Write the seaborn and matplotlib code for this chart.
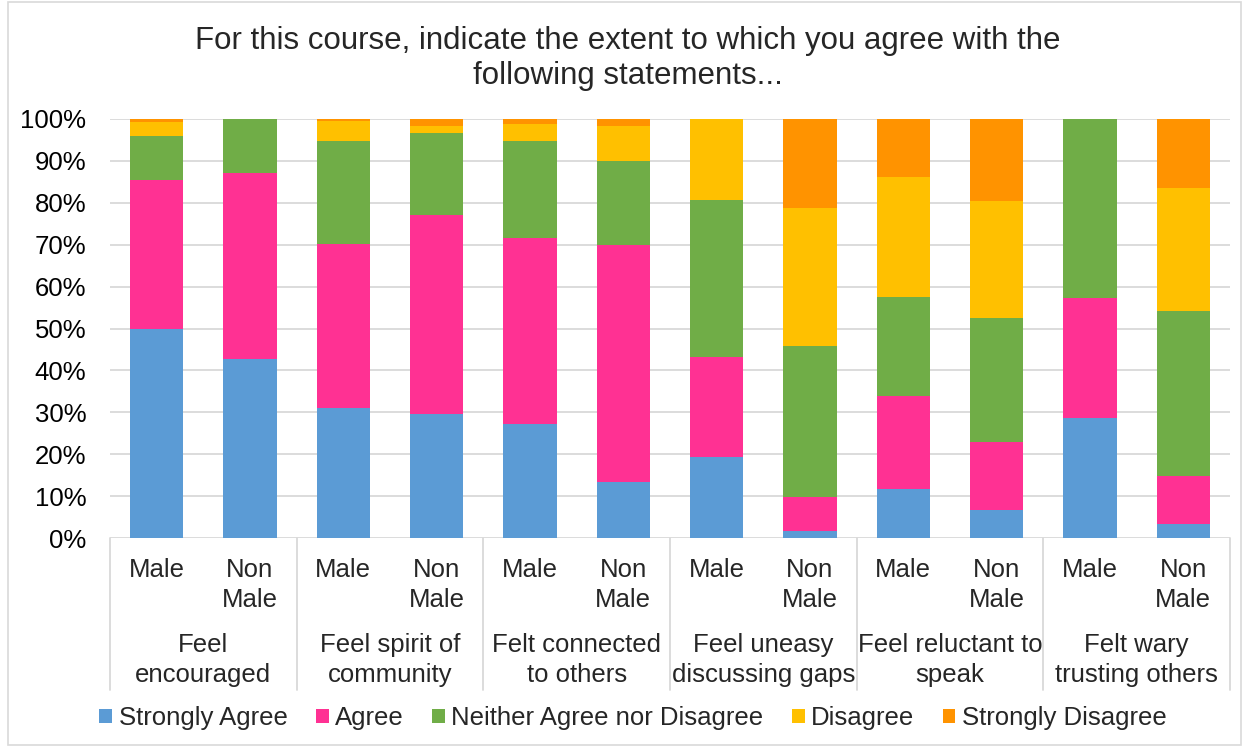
import matplotlib
matplotlib.use("Agg")
import matplotlib.pyplot as plt
import matplotlib.transforms as mtransforms
from matplotlib.patches import Rectangle
import numpy as np
import pandas as pd
import seaborn as sns

# Survey statements (outer axis groups) and respondent groups (inner labels)
statements = ["Feel\nencouraged", "Feel spirit of\ncommunity", "Felt connected\nto others",
              "Feel uneasy\ndiscussing gaps", "Feel reluctant to\nspeak", "Felt wary\ntrusting others"]
genders = ["Male", "Non\nMale"]

# Percent of responses per bar, ordered statement by statement, Male then Non Male
strongly_agree = [49.8, 42.8, 31.1, 29.5, 27.1, 13.3, 19.3, 1.6, 11.8, 6.6, 28.6, 3.3]
agree = [35.6, 44.2, 39.0, 47.5, 44.4, 56.7, 23.8, 8.2, 22.0, 16.4, 28.6, 11.5]
neither = [10.6, 13.0, 24.6, 19.7, 23.2, 20.0, 37.6, 36.1, 23.8, 29.5, 42.8, 39.3]
disagree = [3.4, 0.0, 4.8, 1.7, 4.0, 8.4, 19.3, 32.8, 28.5, 27.9, 0.0, 29.5]
strongly_disagree = [0.6, 0.0, 0.5, 1.6, 1.3, 1.6, 0.0, 21.3, 13.9, 19.6, 0.0, 16.4]

responses = ["Strongly Agree", "Agree", "Neither Agree nor Disagree", "Disagree", "Strongly Disagree"]
colors = ["#5B9BD5", "#FF3193", "#70AD47", "#FFC000", "#FF9300"]
y_ticks = [0, 10, 20, 30, 40, 50, 60, 70, 80, 90, 100]

FONT = ["Liberation Sans", "DejaVu Sans"]
LABEL_SIZE = 18.5
sns.set_theme(style="white")
plt.rcParams["font.family"] = FONT

series = [strongly_agree, agree, neither, disagree, strongly_disagree]
bar_ids = [f"{s}|{g}" for s in statements for g in genders]
df = pd.DataFrame({"bar": bar_ids})
for name, vals in zip(responses, series):
    df[name] = vals
cum = df[responses].cumsum(axis=1)

fig = plt.figure(figsize=(12.49, 7.47), dpi=100)
ax = fig.add_axes([110 / 1249, 1 - 538 / 747, 1120 / 1249, 419 / 747])

# Stacked bars: draw cumulative totals from the top layer down
for name, color in reversed(list(zip(responses, colors))):
    sns.barplot(data=cum.assign(bar=df["bar"]), x="bar", y=name, order=bar_ids,
                color=color, width=0.57, linewidth=0, saturation=1, ax=ax, zorder=2)

ax.set_xlim(-0.5, len(bar_ids) - 0.5)
ax.set_ylim(0, 100)
ax.set_yticks(y_ticks)
ax.set_yticklabels([f"{t}%" for t in y_ticks], fontsize=LABEL_SIZE, color="#000000")
ax.tick_params(axis="y", length=0, pad=17)
ax.set_xticks([])
ax.set_xlabel("")
ax.set_ylabel("")
ax.grid(axis="y", color="#D9D9D9", linewidth=1.3, zorder=0)
ax.set_axisbelow(True)
for side in ["left", "right", "top", "bottom"]:
    ax.spines[side].set_visible(False)

# Two-level category axis below the plot
trans = mtransforms.blended_transform_factory(ax.transData, ax.transAxes)
px = 1 / 419
for i, bid in enumerate(bar_ids):
    g = bid.split("|")[1]
    for j, line in enumerate(g.split("\n")):
        ax.text(i, -(570 + 30 * j - 538) * px, line, transform=trans, ha="center",
                va="center", fontsize=LABEL_SIZE)
for k, s in enumerate(statements):
    center = 2 * k + 0.5
    for j, line in enumerate(s.split("\n")):
        ax.text(center, -(645 + 30 * j - 538) * px, line, transform=trans, ha="center",
                va="center", fontsize=LABEL_SIZE)
for k in range(len(statements) + 1):
    xpos = 2 * k - 0.5
    ax.plot([xpos, xpos], [0, -(690 - 538) * px], transform=trans, color="#D9D9D9",
            linewidth=1.3, clip_on=False)

# Title
fig.text(628 / 1249, 1 - 41 / 747,
         "For this course, indicate the extent to which you agree with the",
         ha="center", va="center", fontsize=22.5)
fig.text(628 / 1249, 1 - 76 / 747, "following statements...",
         ha="center", va="center", fontsize=22.5)

# Legend
handles = [Rectangle((0, 0), 1, 1, facecolor=c, edgecolor="none") for c in colors]
fig.legend(handles, responses, loc="center", bbox_to_anchor=(633 / 1249, 1 - 718 / 747),
           ncol=5, frameon=False, fontsize=LABEL_SIZE, handlelength=0.5, handleheight=0.5,
           handletextpad=0.25, columnspacing=1.1, borderaxespad=0)

# Light frame around the chart
fig.patches.append(Rectangle((8 / 1249, 2 / 747), 1233 / 1249, 743 / 747,
                             transform=fig.transFigure, fill=False,
                             edgecolor="#D9D9D9", linewidth=1.2))

fig.savefig("out.png", dpi=100)
